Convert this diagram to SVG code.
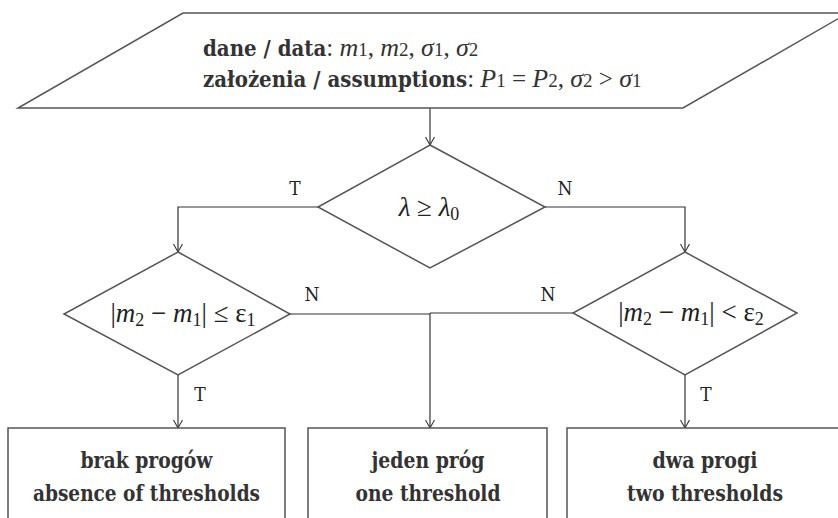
<svg xmlns="http://www.w3.org/2000/svg" width="838" height="518" viewBox="0 0 838 518">
<defs>
<marker id="arr" markerWidth="12" markerHeight="12" refX="10" refY="6" orient="auto" markerUnits="userSpaceOnUse" viewBox="0 0 12 12">
<polyline points="2,1.5 10,6 2,10.5" fill="none" stroke="#333" stroke-width="1.1"/>
</marker>
<style>
.shape{fill:#fff;stroke:#555;stroke-width:1.5}
.con{fill:none;stroke:#333;stroke-width:1.2}
.bold{font-family:"DejaVu Serif Condensed","DejaVu Serif","Liberation Serif",serif;font-stretch:condensed;font-weight:bold;fill:#333;font-size:23px}
.lbl{font-family:"DejaVu Serif Condensed","DejaVu Serif","Liberation Serif",serif;font-stretch:condensed;fill:#222;font-size:19px}
.top{font-family:"DejaVu Serif Condensed","DejaVu Serif",serif;font-stretch:condensed;font-weight:bold;fill:#333;font-size:22px}
.tm{font-family:"Liberation Serif",serif;font-weight:normal;font-style:italic;font-stretch:normal;font-size:26px}
.tr{font-family:"Liberation Serif",serif;font-weight:normal;font-style:normal;font-stretch:normal;font-size:25px}
.sub{font-family:"Liberation Serif",serif;font-weight:normal;font-style:normal;font-stretch:normal;font-size:19px}
.math{font-family:"Liberation Serif","DejaVu Serif",serif;fill:#222;font-size:27px}
.it{font-style:italic}
</style>
</defs>

<g id="connectors">
<line class="con" x1="430" y1="108" x2="430" y2="145" marker-end="url(#arr)"/>
<polyline class="con" points="318,207 178,207 178,252" marker-end="url(#arr)"/>
<polyline class="con" points="545,207 685,207 685,252" marker-end="url(#arr)"/>
<line class="con" x1="290" y1="314" x2="430" y2="314"/>
<line class="con" x1="573" y1="313" x2="430" y2="313"/>
<line class="con" x1="430" y1="313" x2="430" y2="428" marker-end="url(#arr)"/>
<line class="con" x1="178" y1="375" x2="178" y2="428" marker-end="url(#arr)"/>
<line class="con" x1="685" y1="375" x2="685" y2="428" marker-end="url(#arr)"/>
<text class="lbl" x="295" y="195" text-anchor="middle">T</text>
<text class="lbl" x="565" y="195" text-anchor="middle">N</text>
<text class="lbl" x="312" y="301" text-anchor="middle">N</text>
<text class="lbl" x="548" y="301" text-anchor="middle">N</text>
<text class="lbl" x="200" y="401" text-anchor="middle">T</text>
<text class="lbl" x="706" y="401" text-anchor="middle">T</text>
</g>

<g id="input">
<polygon class="shape" points="183,13 848,13 683,108 18,108"/>
<text class="top" x="203" y="56"><tspan>dane / data</tspan><tspan class="tr">: </tspan><tspan class="tm">m</tspan><tspan class="sub">1</tspan><tspan class="tr">, </tspan><tspan class="tm">m</tspan><tspan class="sub">2</tspan><tspan class="tr">, </tspan><tspan class="tm">σ</tspan><tspan class="sub">1</tspan><tspan class="tr">, </tspan><tspan class="tm">σ</tspan><tspan class="sub">2</tspan></text>
<text class="top" x="203" y="87"><tspan>założenia / assumptions</tspan><tspan class="tr">: </tspan><tspan class="tm">P</tspan><tspan class="sub">1</tspan><tspan class="tr"> = </tspan><tspan class="tm">P</tspan><tspan class="sub">2</tspan><tspan class="tr">, </tspan><tspan class="tm">σ</tspan><tspan class="sub">2</tspan><tspan class="tr"> &gt; </tspan><tspan class="tm">σ</tspan><tspan class="sub">1</tspan></text>
</g>

<g id="decision-lambda">
<polygon class="shape" points="430,145 545,207 430,268 318,207"/>
<text class="math" x="429" y="216" text-anchor="middle"><tspan class="it">λ</tspan> ≥ <tspan class="it">λ</tspan><tspan font-size="18" dy="4">0</tspan></text>
</g>

<g id="decision-eps1">
<polygon class="shape" points="178,252 290,314 178,375 64,314"/>
<text class="math" x="183" y="322" text-anchor="middle">|<tspan class="it">m</tspan><tspan font-size="18" dy="4">2</tspan><tspan dy="-4"> − </tspan><tspan class="it">m</tspan><tspan font-size="18" dy="4">1</tspan><tspan dy="-4">| ≤ ε</tspan><tspan font-size="18" dy="4">1</tspan></text>
</g>

<g id="decision-eps2">
<polygon class="shape" points="685,252 797,313 685,375 573,313"/>
<text class="math" x="691" y="321" text-anchor="middle">|<tspan class="it">m</tspan><tspan font-size="18" dy="4">2</tspan><tspan dy="-4"> − </tspan><tspan class="it">m</tspan><tspan font-size="18" dy="4">1</tspan><tspan dy="-4">| &lt; ε</tspan><tspan font-size="18" dy="4">2</tspan></text>
</g>

<g id="box-none">
<rect class="shape" x="8" y="428" width="277" height="100"/>
<text class="bold" x="146.5" y="468" text-anchor="middle" textLength="132" lengthAdjust="spacingAndGlyphs">brak progów</text>
<text class="bold" x="146.5" y="501" text-anchor="middle" textLength="227" lengthAdjust="spacingAndGlyphs">absence of thresholds</text>
</g>

<g id="box-one">
<rect class="shape" x="308" y="428" width="239" height="100"/>
<text class="bold" x="428" y="468" text-anchor="middle" textLength="113" lengthAdjust="spacingAndGlyphs">jeden próg</text>
<text class="bold" x="428" y="501" text-anchor="middle" textLength="145" lengthAdjust="spacingAndGlyphs">one threshold</text>
</g>

<g id="box-two">
<rect class="shape" x="567" y="428" width="290" height="100"/>
<text class="bold" x="705" y="468" text-anchor="middle" textLength="105" lengthAdjust="spacingAndGlyphs">dwa progi</text>
<text class="bold" x="705" y="501" text-anchor="middle" textLength="156" lengthAdjust="spacingAndGlyphs">two thresholds</text>
</g>
</svg>
